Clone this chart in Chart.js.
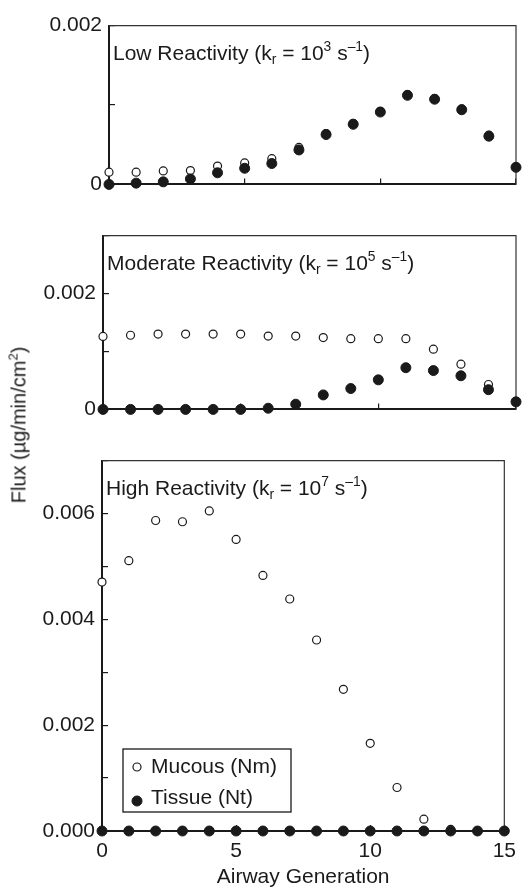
<!DOCTYPE html>
<html>
<head>
<meta charset="utf-8">
<script src="https://cdn.jsdelivr.net/npm/chart.js@4.4.0/dist/chart.umd.min.js"></script>
<style>
  html, body { margin: 0; padding: 0; background: #fff; }
  #wrap { position: relative; width: 530px; height: 888px; overflow: hidden; }
  #wrap canvas { position: absolute; left: 0; }
  #ytitle {
    position: absolute; left: 19px; top: 425px;
    transform: translate(-50%, -50%) rotate(-90deg);
    font: 20px 'Liberation Sans', Arial, sans-serif;
    white-space: nowrap; color: #1a1a1a;
  }
  #ytitle sup { font-size: 13px; vertical-align: 0; position: relative; top: -8px; }
</style>
</head>
<body>
<div id="wrap">
  <canvas id="chart-low" width="530" height="210" style="top:0"></canvas>
  <canvas id="chart-mod" width="530" height="225" style="top:210px"></canvas>
  <canvas id="chart-high" width="530" height="453" style="top:435px"></canvas>
  <div id="ytitle">Flux (µg/min/cm<sup>2</sup>)</div>
</div>
<script>
'use strict';

// airway generation (x axis)
var generations = [0, 1, 2, 3, 4, 5, 6, 7, 8, 9, 10, 11, 12, 13, 14, 15];
var genLabels = ['0', '5', '10', '15'];
var noLabels = ['', '', '', ''];

// low reactivity, kr = 10^3 s^-1
var lowMucous = [0.000154, 0.000154, 0.00017, 0.000174, 0.000231, 0.000271, 0.000324, 0.000466,
                 0.00064, 0.00077, 0.00092, 0.00113, 0.00108, 0.00095, 0.00062, 0.00022];
var lowTissue = [0, 0.000016, 0.000032, 0.000069, 0.000146, 0.000203, 0.000263, 0.000434,
                 0.000628, 0.000757, 0.000911, 0.001122, 0.001073, 0.00094, 0.000607, 0.000215];
var lowTicks = ['0', '', '0.002'];
var lowTitle = [['Low Reactivity (k'], ['r', 'sub'], [' = 10'], ['3', 'sup'], [' s'], ['\u20131', 'sup'], [')']];

// moderate reactivity, kr = 10^5 s^-1
var modMucous = [0.00126, 0.00128, 0.0013, 0.0013, 0.0013, 0.0013, 0.001265, 0.001265,
                 0.00124, 0.00122, 0.00122, 0.00122, 0.00104, 0.00078, 0.00043, 0.00014];
var modTissue = [0, 0, 0, 0, 0, 0, 0.00002, 0.00009,
                 0.00025, 0.00036, 0.00051, 0.00072, 0.00067, 0.00058, 0.00034, 0.00013];
var modTicks = ['0', '', '0.002', ''];
var modTitle = [['Moderate Reactivity (k'], ['r', 'sub'], [' = 10'], ['5', 'sup'], [' s'], ['\u20131', 'sup'], [')']];

// high reactivity, kr = 10^7 s^-1
var highMucous = [0.004705, 0.005108, 0.005868, 0.005844, 0.006048, 0.00551, 0.00483, 0.004384,
                  0.00361, 0.002677, 0.001657, 0.000822, 0.000223, 0.00003, 0, 0];
var highTissue = [0, 0, 0, 0, 0, 0, 0, 0, 0, 0, 0, 0, 0, 0, 0, 0];
var highTicks = ['0.000', '', '0.002', '', '0.004', '', '0.006', ''];
var highTitle = [['High Reactivity (k'], ['r', 'sub'], [' = 10'], ['7', 'sup'], [' s'], ['\u20131', 'sup'], [')']];

var seriesNames = ['Mucous (Nm)', 'Tissue (Nt)'];

var FONT = "'Liberation Sans', Arial, Helvetica, sans-serif";
var INK = '#1a1a1a';

function points(vals) {
  return vals.map(function(v, i) { return {x: generations[i], y: v}; });
}

// text with sub/superscripts, left aligned at baseline y
function drawRich(ctx, parts, x, y, size) {
  ctx.textBaseline = 'alphabetic';
  ctx.textAlign = 'left';
  parts.forEach(function(p) {
    var small = p[1] ? size * 0.66 : size;
    var dy = p[1] === 'sub' ? size * 0.22 : (p[1] === 'sup' ? -size * 0.42 : 0);
    ctx.font = small + 'px ' + FONT;
    ctx.fillText(p[0], x, y + dy);
    x += ctx.measureText(p[0]).width;
  });
}

// top/right frame and panel caption
var panelPlugin = {
  id: 'panel',
  beforeDatasetsDraw: function(chart, args, opts) {
    var ctx = chart.ctx, a = chart.chartArea;
    ctx.save();
    ctx.strokeStyle = '#333';
    ctx.lineWidth = 1.2;
    ctx.beginPath();
    ctx.moveTo(a.left, a.top);
    ctx.lineTo(a.right, a.top);
    ctx.lineTo(a.right, a.bottom);
    ctx.stroke();
    ctx.fillStyle = INK;
    drawRich(ctx, opts.caption, a.left + 4, a.top + 34, 21);
    ctx.restore();
  }
};

// boxed legend inside the lower panel
var boxLegend = {
  id: 'boxLegend',
  afterDatasetsDraw: function(chart, args, opts) {
    if (!opts.show) return;
    var ctx = chart.ctx, a = chart.chartArea;
    var left = a.left + opts.dx, top = a.bottom - opts.dy;
    ctx.save();
    ctx.fillStyle = '#fff';
    ctx.fillRect(left, top, opts.w, opts.h);
    ctx.strokeStyle = INK;
    ctx.lineWidth = 1.3;
    ctx.strokeRect(left, top, opts.w, opts.h);
    chart.data.datasets.forEach(function(ds, i) {
      var cy = top + 18 + i * 31;
      ctx.beginPath();
      ctx.arc(left + 14, cy + (i ? 3 : 0), ds.pointRadius, 0, Math.PI * 2);
      ctx.fillStyle = ds.pointBackgroundColor;
      ctx.fill();
      ctx.lineWidth = ds.pointBorderWidth;
      ctx.strokeStyle = ds.pointBorderColor;
      ctx.stroke();
      ctx.fillStyle = INK;
      ctx.font = '21px ' + FONT;
      ctx.textBaseline = 'middle';
      ctx.fillText(ds.label, left + 28, cy);
    });
    ctx.restore();
  }
};

function makeChart(id, mucous, tissue, opt) {
  var canvas = document.getElementById(id);
  return new Chart(canvas, {
    type: 'scatter',
    data: {
      datasets: [{
        label: seriesNames[0],
        data: points(mucous),
        order: 1,
        clip: false,
        pointRadius: 4,
        pointBackgroundColor: '#fff',
        pointBorderColor: INK,
        pointBorderWidth: 1.2
      }, {
        label: seriesNames[1],
        data: points(tissue),
        order: 0,
        clip: false,
        pointRadius: 5,
        pointBackgroundColor: INK,
        pointBorderColor: INK,
        pointBorderWidth: 1
      }]
    },
    options: {
      responsive: false,
      animation: false,
      events: [],
      layout: { autoPadding: false, padding: { top: opt.top, right: opt.right, left: 0, bottom: 0 } },
      plugins: {
        legend: { display: false },
        tooltip: { enabled: false },
        panel: { caption: opt.caption },
        boxLegend: { show: !!opt.legend, dx: 21, dy: 82, w: 168, h: 63 }
      },
      scales: {
        x: {
          type: 'linear', min: 0, max: 15,
          afterFit: function(s) { s.height = opt.xHeight; },
          border: { color: INK, width: 2 },
          grid: { drawOnChartArea: false, tickLength: -6, color: INK, lineWidth: 1.2 },
          ticks: {
            stepSize: 5, autoSkip: false, maxRotation: 0, padding: 14,
            color: INK, font: { family: FONT, size: 21 },
            callback: function(v, i) { return opt.xLabels[i]; }
          },
          title: {
            display: !!opt.xTitle, text: opt.xTitle || '', color: INK,
            font: { family: FONT, size: 21, lineHeight: 1 }, padding: 0
          }
        },
        y: {
          type: 'linear', min: 0, max: opt.yMax,
          afterFit: function(s) { s.width = opt.left; },
          border: { color: INK, width: 2 },
          grid: { drawOnChartArea: false, tickLength: -6, color: INK, lineWidth: 1.2 },
          ticks: {
            stepSize: 0.001, autoSkip: false, padding: 13,
            color: INK, font: { family: FONT, size: 21 },
            callback: function(v, i) { return opt.yLabels[i]; }
          }
        }
      }
    },
    plugins: [panelPlugin, boxLegend]
  });
}

makeChart('chart-low', lowMucous, lowTissue, {
  top: 23, right: 9, left: 109, xHeight: 23, yMax: 0.002,
  yLabels: lowTicks, xLabels: noLabels, caption: lowTitle
});
makeChart('chart-mod', modMucous, modTissue, {
  top: 25, right: 9, left: 103, xHeight: 22, yMax: 0.003,
  yLabels: modTicks, xLabels: noLabels, caption: modTitle
});
makeChart('chart-high', highMucous, highTissue, {
  top: 20, right: 12, left: 102, xHeight: 57, yMax: 0.007,
  yLabels: highTicks, xLabels: genLabels, caption: highTitle,
  xTitle: 'Airway Generation', legend: true
});
</script>
</body>
</html>
